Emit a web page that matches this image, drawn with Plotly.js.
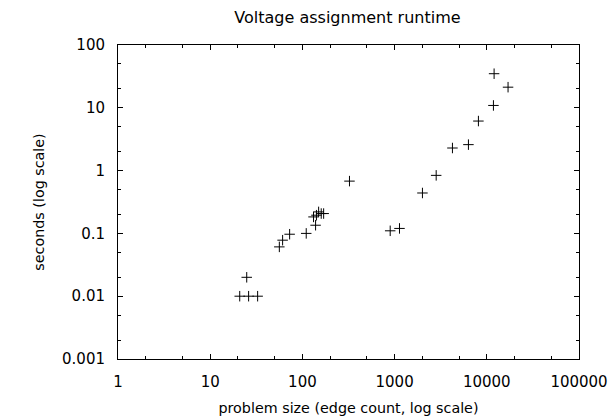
<!DOCTYPE html>
<html>
<head>
<meta charset="utf-8">
<script src="https://cdn.plot.ly/plotly-3.0.1.min.js"></script>
<style>html,body{margin:0;padding:0;background:#fff;}#chart{width:615px;height:417px;}</style>
</head>
<body>
<div id="chart"></div>
<script>
// problem size (edge count) and runtime (seconds)
var edgeCount = [20.9, 26.1, 32.7, 24.9, 56.2, 61.0, 72.7, 110, 139, 132, 142, 150, 160, 170, 324, 896, 1130, 2005, 2825, 4240, 6320, 8110, 11800, 17000, 12000];
var seconds   = [0.01, 0.01, 0.01, 0.02, 0.061, 0.078, 0.097, 0.1, 0.135, 0.183, 0.195, 0.22, 0.207, 0.207, 0.68, 0.11, 0.12, 0.44, 0.84, 2.29, 2.59, 6.15, 10.9, 21.3, 34.9];
var xTickVals = [1, 10, 100, 1000, 10000, 100000];
var xTickText = ["1", "10", "100", "1000", "10000", "100000"];
var yTickVals = [0.001, 0.01, 0.1, 1, 10, 100];
var yTickText = ["0.001", "0.01", "0.1", "1", "10", "100"];
var minorVals = function (lo, hi) {
  var out = [];
  for (var d = lo; d < hi; d++) { out.push(2 * Math.pow(10, d)); out.push(5 * Math.pow(10, d)); }
  return out;
};

var FONT = "DejaVu Sans, Liberation Sans, Arial, sans-serif";

var trace = {
  x: edgeCount, y: seconds, type: "scatter", mode: "markers",
  marker: {symbol: "cross-thin-open", size: 7.5, color: "#000", line: {color: "#000", width: 1}},
  hoverinfo: "x+y"
};

var axisCommon = {
  type: "log", showgrid: false, zeroline: false, showline: true, linecolor: "#000", linewidth: 1,
  mirror: "ticks", ticks: "inside", ticklen: 5, tickwidth: 1, tickcolor: "#000",
  tickmode: "array", ticklabelstandoff: 9,
  tickfont: {family: FONT, size: 15, color: "#000"}
};

var layout = {
  width: 615, height: 417,
  margin: {l: 117.5, r: 36, t: 44.5, b: 58},
  paper_bgcolor: "#fff", plot_bgcolor: "#fff",
  showlegend: false,
  title: {text: "Voltage assignment runtime", font: {family: FONT, size: 16, color: "#000"},
          x: 0.565, xanchor: "center", yref: "container", y: 0.958, yanchor: "middle"},
  xaxis: Object.assign({}, axisCommon, {
    range: [0, 5], tickvals: xTickVals, ticktext: xTickText,
    minor: {tickmode: "array", tickvals: minorVals(0, 5), ticks: "inside", ticklen: 3, tickcolor: "#000", tickwidth: 1},
    title: {text: "problem size (edge count, log scale)", font: {family: FONT, size: 14.3, color: "#000"}, standoff: 12}
  }),
  yaxis: Object.assign({}, axisCommon, {
    range: [-3, 2], tickvals: yTickVals, ticktext: yTickText,
    minor: {tickmode: "array", tickvals: minorVals(-3, 2), ticks: "inside", ticklen: 3, tickcolor: "#000", tickwidth: 1},
    title: {text: "seconds (log scale)", font: {family: FONT, size: 14.3, color: "#000"}, standoff: 14}
  })
};

Plotly.newPlot("chart", [trace], layout, {displayModeBar: false, staticPlot: false});
</script>
</body>
</html>
